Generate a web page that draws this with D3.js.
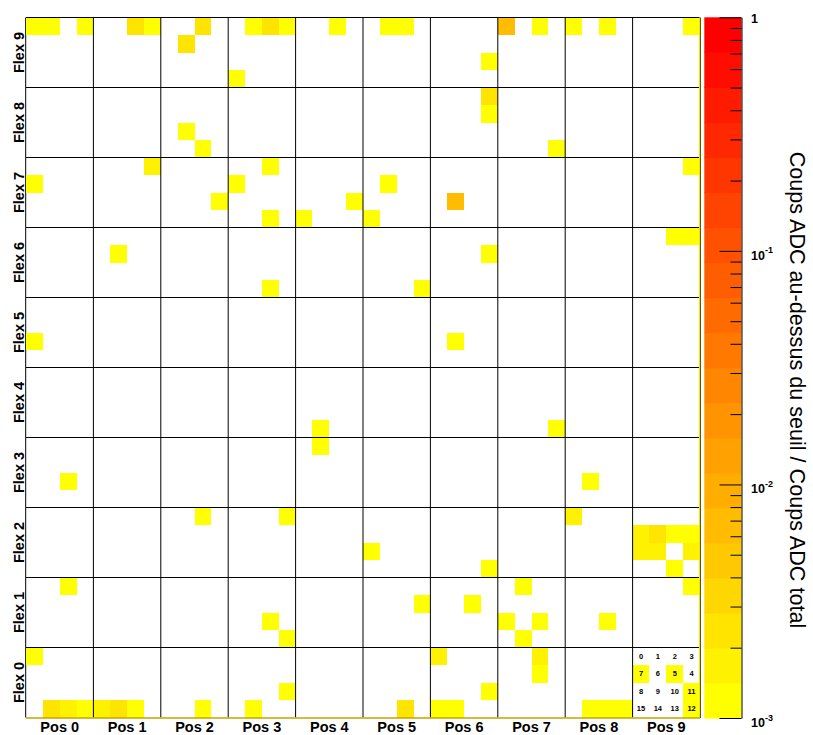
<!DOCTYPE html>
<html><head><meta charset="utf-8">
<script src="https://cdn.jsdelivr.net/npm/d3@7"></script>
<style>body{margin:0;background:#fff} svg{display:block}</style>
</head><body>
<svg id="chart" width="813" height="735"></svg>
<script>
// ---------- data ----------
const posLabels = ["Pos 0","Pos 1","Pos 2","Pos 3","Pos 4","Pos 5","Pos 6","Pos 7","Pos 8","Pos 9"];
const flexLabels = ["Flex 0","Flex 1","Flex 2","Flex 3","Flex 4","Flex 5","Flex 6","Flex 7","Flex 8","Flex 9"];
// channel numbering inside each Flex/Pos block (rows top -> bottom)
const channelLayout = [[0,1,2,3],[7,6,5,4],[8,9,10,11],[15,14,13,12]];
const zTickLabels = ["10^-3","10^-2","10^-1","1"];
const zTitle = "Coups ADC au-dessus du seuil / Coups ADC total";
// hits per flex: [pos, channel, ratio]
const hitsFlex9 = [[0,0,.0012],[0,1,.0012],[0,3,.0012],[1,2,.0025],[1,3,.0012],[2,2,.0023],[2,6,.0025],[3,1,.0012],[3,2,.0025],[3,3,.0012],[3,15,.0012],[4,2,.0012],[5,1,.0012],[5,2,.0012],[6,11,.0012],[7,0,.0068],[7,2,.0012],[8,0,.0012],[8,2,.0012],[9,3,.0012]];
const hitsFlex8 = [[2,9,.0012],[2,13,.0012],[6,3,.0024],[6,4,.0012],[7,12,.0012]];
const hitsFlex7 = [[0,7,.0012],[1,3,.0017],[2,11,.0012],[3,2,.0012],[3,7,.0012],[3,13,.0012],[4,11,.0012],[4,15,.0012],[5,6,.0012],[5,15,.0012],[6,9,.0068],[9,3,.0012]];
const hitsFlex6 = [[1,6,.0012],[3,13,.0012],[5,12,.0012],[6,4,.0012],[9,2,.0012],[9,3,.0012]];
const hitsFlex5 = [[0,8,.0012],[6,9,.0012]];
const hitsFlex4 = [[4,14,.0012],[7,12,.0012]];
const hitsFlex3 = [[0,10,.0012],[4,1,.0012],[8,9,.0012]];
const hitsFlex2 = [[2,2,.0012],[3,3,.0012],[5,8,.0012],[6,12,.0012],[8,0,.0016],[9,7,.0017],[9,6,.0025],[9,5,.0012],[9,4,.0012],[9,8,.0016],[9,9,.0017],[9,11,.0016],[9,13,.0012]];
const hitsFlex1 = [[0,2,.0012],[3,10,.0012],[3,12,.0012],[5,4,.0012],[6,5,.0012],[7,1,.0012],[7,8,.0012],[7,10,.0012],[7,14,.0012],[8,10,.0012],[9,3,.0012]];
const hitsFlex0 = [[0,0,.0012],[0,14,.0025],[0,13,.0017],[0,12,.0012],[1,15,.0016],[1,14,.0024],[1,13,.0012],[2,13,.0012],[3,11,.0012],[3,14,.0012],[5,13,.0025],[6,0,.0016],[6,11,.0012],[6,15,.0012],[6,14,.0012],[7,2,.0016],[7,5,.0012],[8,14,.0012],[8,13,.0012],[8,12,.0012],[9,7,.0012],[9,5,.0012],[9,11,.0012],[9,12,.0012]];
const hitsByFlex = [hitsFlex0,hitsFlex1,hitsFlex2,hitsFlex3,hitsFlex4,hitsFlex5,hitsFlex6,hitsFlex7,hitsFlex8,hitsFlex9];

// ---------- layout ----------
const X0 = 26, X1 = 700, Y0 = 17.5, Y1 = 717.5;
const CB0 = 704.3, CB1 = 741.5, CBT = 17.3, CBB = 718;
const nLevels = 20;
const FONT = "'Liberation Sans', Arial, Helvetica, sans-serif";

const svg = d3.select("#chart");

const xBin = d3.scaleLinear().domain([0, 40]).range([X0, X1]);
const yBin = d3.scaleLinear().domain([0, 40]).range([Y1, Y0]);
const xPos = d3.scaleBand().domain(posLabels).range([X0, X1]);
const yFlex = d3.scaleBand().domain(flexLabels).range([Y1, Y0]);
const zScale = d3.scaleLog().domain([1e-3, 1]).range([CBB, CBT]);
const palette = d3.range(nLevels).map(k => d3.rgb(255, Math.round(255 * (1 - k / (nLevels - 1))), 0).formatHex());
const colorOf = d3.scaleQuantize().domain([-3, 0]).range(palette);

// flatten hits into bins
const cells = [];
hitsByFlex.forEach((arr, flex) => arr.forEach(([pos, ch, v]) => {
  let r = 0, c = 0;
  channelLayout.forEach((row, ri) => row.forEach((cc, ci) => { if (cc === ch) { r = ri; c = ci; } }));
  cells.push({ix: pos * 4 + c, iy: flex * 4 + (3 - r), v});
}));

// frame top/left (under cells)
svg.append("line").attr("x1", X0 - 0.3).attr("x2", X0 - 0.3).attr("y1", Y0).attr("y2", Y1).attr("stroke", "#000").attr("stroke-width", 1);
svg.append("line").attr("x1", X0).attr("x2", X1).attr("y1", Y0).attr("y2", Y0).attr("stroke", "#000").attr("stroke-width", 1);

// cells
svg.append("g").selectAll("rect").data(cells).join("rect")
  .attr("x", d => xBin(d.ix))
  .attr("y", d => yBin(d.iy + 1))
  .attr("width", d => xBin(d.ix + 1) - xBin(d.ix))
  .attr("height", d => yBin(d.iy) - yBin(d.iy + 1))
  .attr("fill", d => colorOf(Math.log10(d.v)))
  .attr("shape-rendering", "crispEdges");

// block grid lines
const grid = svg.append("g").attr("stroke", "#000").attr("stroke-width", 1);
d3.range(1, 10).forEach(k => {
  grid.append("line").attr("x1", xBin(4 * k)).attr("x2", xBin(4 * k)).attr("y1", Y0).attr("y2", Y1);
  grid.append("line").attr("x1", X0).attr("x2", X1).attr("y1", yBin(4 * k)).attr("y2", yBin(4 * k));
});
// right & bottom edges
svg.append("line").attr("x1", X1 - 0.5).attr("x2", X1 - 0.5).attr("y1", Y0).attr("y2", Y1).attr("stroke", "#f2e400").attr("stroke-width", 1);
svg.append("line").attr("x1", X1 + 0.5).attr("x2", X1 + 0.5).attr("y1", Y0).attr("y2", Y1 + 0.5).attr("stroke", "#5a5a10").attr("stroke-width", 1);
svg.append("line").attr("x1", X0).attr("x2", X1).attr("y1", Y1 + 0.5).attr("y2", Y1 + 0.5).attr("stroke", "#c8a200").attr("stroke-width", 1.5);

// channel labels in Pos 9 / Flex 0 block
const legendG = svg.append("g").attr("font-family", FONT).attr("font-weight", "bold").attr("font-size", 7.5).attr("text-anchor", "middle");
channelLayout.forEach((row, r) => row.forEach((ch, c) => {
  legendG.append("text")
    .attr("x", (xBin(36 + c) + xBin(37 + c)) / 2)
    .attr("y", (yBin(3 - r) + yBin(4 - r)) / 2 + 2.7)
    .text(ch);
}));

// x axis (Pos)
const xAxis = d3.axisBottom(xPos).tickSize(0).tickPadding(4.3);
const gx = svg.append("g").attr("transform", `translate(0,${Y1})`).call(xAxis);
gx.select(".domain").remove();
gx.selectAll("text").attr("font-family", FONT).attr("font-weight", "bold").attr("font-size", 14.5).attr("fill", "#000");

// y axis (Flex), rotated labels
const yAxis = d3.axisLeft(yFlex).tickSize(0).tickPadding(0);
const gy = svg.append("g").attr("transform", `translate(${X0 - 2.5},0)`).call(yAxis);
gy.select(".domain").remove();
gy.selectAll(".tick text")
  .attr("x", 0).attr("dy", null).attr("y", 0)
  .attr("transform", "rotate(-90)")
  .attr("text-anchor", "middle")
  .attr("font-family", FONT).attr("font-weight", "bold").attr("font-size", 14.5).attr("fill", "#000");

// colour bar
const step = 3 / nLevels;
svg.append("g").selectAll("rect").data(palette).join("rect")
  .attr("x", CB0).attr("width", CB1 - CB0)
  .attr("y", (d, k) => zScale(Math.pow(10, -3 + step * (k + 1))))
  .attr("height", (d, k) => zScale(Math.pow(10, -3 + step * k)) - zScale(Math.pow(10, -3 + step * (k + 1))) + 0.6)
  .attr("fill", d => d);

const majors = [1e-3, 1e-2, 1e-1, 1];
const minors = zScale.ticks().filter(t => !majors.some(m => Math.abs(m - t) / m < 1e-6));
const zMinor = svg.append("g").attr("transform", `translate(${CB1},0)`)
  .call(d3.axisRight(zScale).tickValues(minors).tickSizeInner(-11).tickSizeOuter(0).tickFormat(""));
zMinor.selectAll("line").attr("stroke", "#000");
zMinor.select(".domain").attr("stroke", "#000");
const zMajor = svg.append("g").attr("transform", `translate(${CB1},0)`)
  .call(d3.axisRight(zScale).tickValues(majors).tickSizeInner(-22).tickSizeOuter(0).tickPadding(9.5).tickFormat((d, i) => zTickLabels[i]));
zMajor.select(".domain").remove();
zMajor.selectAll(".tick text").each(function(d, i) {
  const t = d3.select(this);
  const lab = zTickLabels[i];
  t.text(null).attr("dy", null).attr("font-family", FONT).attr("font-weight", "bold").attr("font-size", 12.5).attr("fill", "#000");
  if (lab.includes("^")) {
    const [b, e] = lab.split("^");
    t.attr("y", 8.5);
    t.append("tspan").text(b);
    t.append("tspan").attr("dy", -6.5).attr("font-size", 9).text(e);
  } else {
    t.attr("y", 5).text(lab);
  }
});

// colour bar title
svg.append("text")
  .attr("transform", `translate(790,390) rotate(90)`)
  .attr("text-anchor", "middle")
  .attr("font-family", FONT).attr("font-size", 21.6).attr("fill", "#000")
  .text(zTitle);
</script>
</body></html>
